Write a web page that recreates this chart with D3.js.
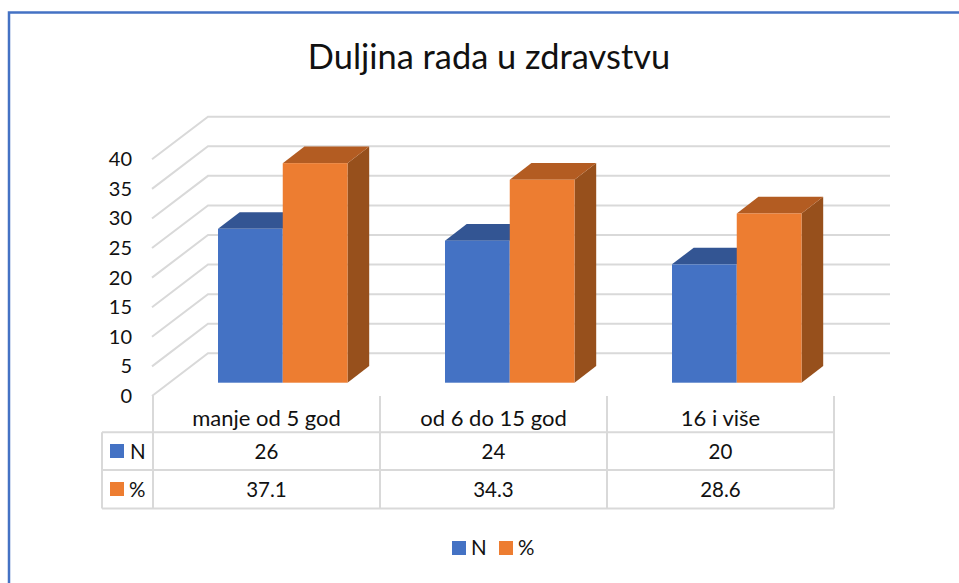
<!DOCTYPE html>
<html>
<head>
<meta charset="utf-8">
<script src="https://cdnjs.cloudflare.com/ajax/libs/d3/7.8.5/d3.min.js"></script>
<style>
  html, body { margin: 0; padding: 0; background: #fff; overflow: hidden; }
  text { font-family: Lato, "Open Sans", sans-serif; fill: #111; }
</style>
</head>
<body>
<svg id="chart"></svg>
<script>
const categories = ["manje od 5 god", "od 6 do 15 god", "16 i više"];
const seriesNames = ["N", "%"];
const valuesN = [26, 24, 20];
const valuesPct = [37.1, 34.3, 28.6];
const pctLabels = ["37.1", "34.3", "28.6"];
const yTicks = [0, 5, 10, 15, 20, 25, 30, 35, 40];

const width = 959;
const height = 583;

const blue = { front: "#4472C4", top: "#335593" };
const orange = { front: "#ED7D31", top: "#B35C22", side: "#97501C" };
const gridColor = "#D9D9D9";

const svg = d3.select("#chart")
  .attr("width", width)
  .attr("height", height);

// Outer frame, only top and left are visible in the crop
svg.append("path")
  .attr("d", `M9,${height} V12.5 H${width}`)
  .attr("fill", "none")
  .attr("stroke", "#4472C4")
  .attr("stroke-width", 2.5);

svg.append("text")
  .attr("x", 489)
  .attr("y", 69)
  .attr("text-anchor", "middle")
  .style("font-size", "34.4px")
  .text("Duljina rada u zdravstvu");

// Three y scales: left edge of the floor, back wall, front of the bars
const yFront = d3.scaleLinear().domain([0, 40]).range([396, 159.3]);
const yBack = d3.scaleLinear().domain([0, 40]).range([353.3, 116.7]);
const yBar = d3.scaleLinear().domain([0, 40]).range([382.7, 146]);

const x = d3.scaleBand().domain(categories).range([153, 834]);
const xSeries = d3.scaleBand().domain(seriesNames).range([65, 194.5]);

const depthX = 21.7;
const depthY = 16.7;

// Gridlines on the back wall and side wall
const grid = svg.append("g")
  .attr("fill", "none")
  .attr("stroke", gridColor)
  .attr("stroke-width", 2);

grid.selectAll("path")
  .data(yTicks)
  .enter()
  .append("path")
  .attr("d", d => `M152,${yFront(d)} L208,${yBack(d)} H890`);

// Y axis labels
const yAxis = svg.append("g")
  .attr("transform", "translate(140,0)")
  .call(d3.axisLeft(yFront).tickValues(yTicks).tickSize(0).tickPadding(8));
yAxis.select(".domain").remove();
yAxis.selectAll("text")
  .style("font-size", "20px")
  .attr("font-family", null);

// Bars
const series = [
  { name: "N", values: valuesN, colors: blue },
  { name: "%", values: valuesPct, colors: orange }
];

series.forEach(s => {
  const g = svg.append("g");
  const w = xSeries.bandwidth();
  s.values.forEach((v, i) => {
    const x0 = x(categories[i]) + xSeries(s.name);
    const y0 = yBar(v);
    const y1 = yBar(0);
    if (s.colors.side) {
      g.append("path")
        .attr("d", `M${x0 + w},${y0} l${depthX},${-depthY} V${y1 - depthY} L${x0 + w},${y1} Z`)
        .attr("fill", s.colors.side);
    }
    g.append("path")
      .attr("d", `M${x0},${y0} l${depthX},${-depthY} h${w} l${-depthX},${depthY} Z`)
      .attr("fill", s.colors.top);
    g.append("rect")
      .attr("x", x0)
      .attr("y", y0)
      .attr("width", w)
      .attr("height", y1 - y0)
      .attr("fill", s.colors.front);
  });
});

// Data table below the plot
const tableLeft = 102;
const colEdges = [153, 380, 607, 834];
const table = svg.append("g")
  .attr("stroke", gridColor)
  .attr("stroke-width", 2)
  .attr("fill", "none");

[432.3, 470, 508.5].forEach(y => {
  table.append("line")
    .attr("x1", tableLeft).attr("x2", 834)
    .attr("y1", y).attr("y2", y);
});
table.append("line")
  .attr("x1", tableLeft).attr("x2", tableLeft)
  .attr("y1", 432.3).attr("y2", 508.5);
colEdges.forEach(cx => {
  table.append("line")
    .attr("x1", cx).attr("x2", cx)
    .attr("y1", 396).attr("y2", 508.5);
});

const cellText = (tx, ty, label, anchor, size) => svg.append("text")
  .attr("x", tx)
  .attr("y", ty)
  .attr("text-anchor", anchor || "middle")
  .style("font-size", size || "20.5px")
  .text(label);

categories.forEach((c, i) => {
  const cx = x(c) + x.bandwidth() / 2;
  cellText(cx, 426, c, "middle", "22px");
  cellText(cx, 459, valuesN[i]);
  cellText(cx, 497, pctLabels[i]);
});

// Row keys
svg.append("rect").attr("x", 110).attr("y", 444).attr("width", 14).attr("height", 14).attr("fill", blue.front);
svg.append("rect").attr("x", 110).attr("y", 482).attr("width", 14).attr("height", 14).attr("fill", orange.front);
cellText(130, 459, "N", "start");
cellText(129, 497, "%", "start");

// Legend
const legendX = d3.scaleOrdinal().domain(seriesNames).range([452, 499]);
series.forEach(s => {
  svg.append("rect")
    .attr("x", legendX(s.name))
    .attr("y", 541)
    .attr("width", 14)
    .attr("height", 14)
    .attr("fill", s.colors.front);
  cellText(legendX(s.name) + 19, 555, s.name, "start");
});
</script>
</body>
</html>
